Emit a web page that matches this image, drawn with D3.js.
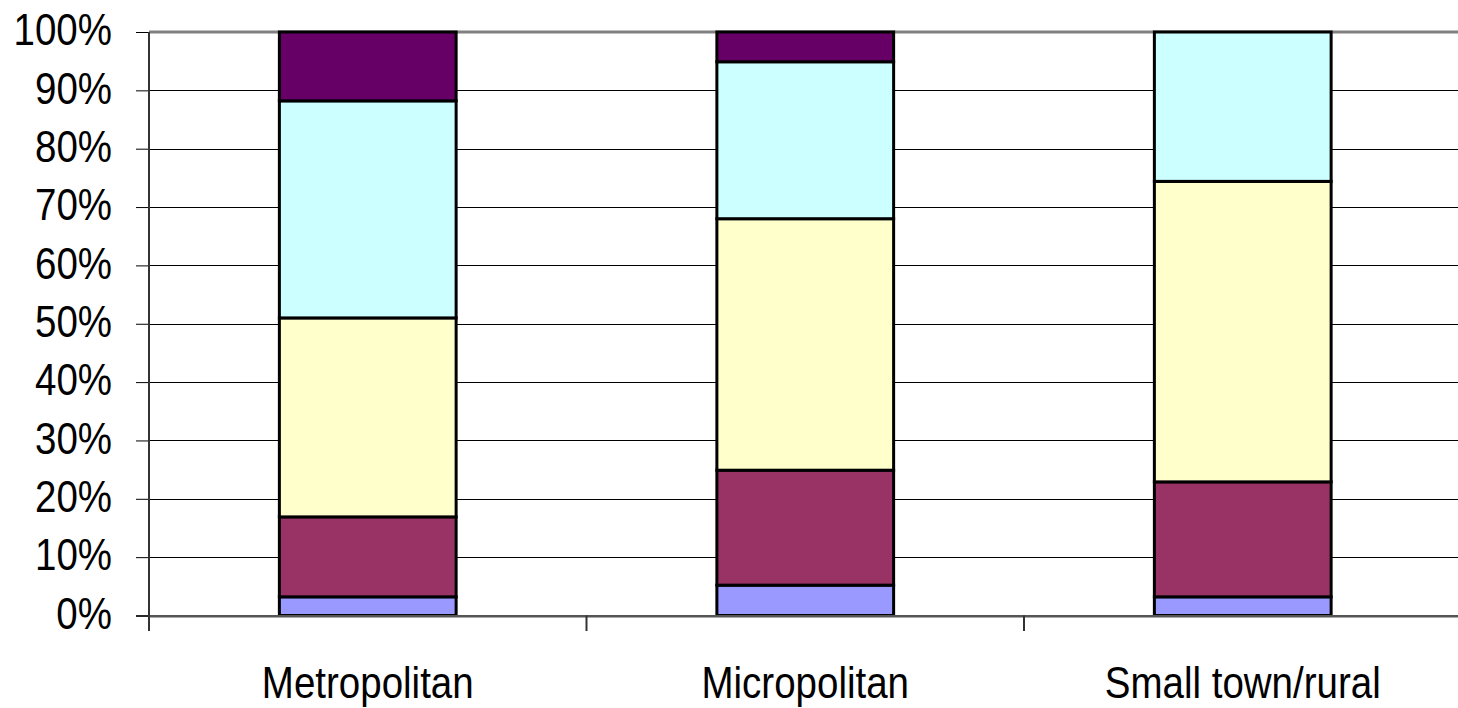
<!DOCTYPE html>
<html>
<head>
<meta charset="utf-8">
<script src="https://cdn.jsdelivr.net/npm/d3@7"></script>
<style>
html,body{margin:0;padding:0;background:#fff;overflow:hidden;}
svg{display:block;}
text{font-family:Arial,"Liberation Sans",sans-serif;fill:#000;}
</style>
</head>
<body>
<svg id="chart" width="1458" height="708"></svg>
<script>
const categories = ["Metropolitan", "Micropolitan", "Small town/rural"];
const series1 = [3.2, 5.2, 3.2];
const series2 = [13.7, 19.7, 19.7];
const series3 = [34.1, 43.1, 51.5];
const series4 = [37.2, 26.9, 25.6];
const series5 = [11.8, 5.1, 0];
const seriesColors = ["#9999FF", "#993366", "#FFFFCC", "#CCFFFF", "#660066"];
const yTicks = [0, 10, 20, 30, 40, 50, 60, 70, 80, 90, 100];

const svg = d3.select("#chart");
const mLeft = 149, mRight = 1461.5, mTop = 32, mBottom = 615.5;

const x = d3.scaleBand().domain(categories).range([mLeft, mRight]).padding(0);
const y = d3.scaleLinear().domain([0, 100]).range([mBottom, mTop]);

// gridlines
svg.append("g").selectAll("line").data(yTicks.filter(t => t > 0 && t < 100)).join("line")
  .attr("x1", mLeft).attr("x2", 1458)
  .attr("y1", d => Math.round(y(d)) + 0.5).attr("y2", d => Math.round(y(d)) + 0.5)
  .attr("stroke", "#000").attr("stroke-width", 1);
// top border
svg.append("line").attr("x1", mLeft).attr("x2", 1458)
  .attr("y1", y(100)).attr("y2", y(100))
  .attr("stroke", "#808080").attr("stroke-width", 3);

// stacked bars
const seriesList = [series1, series2, series3, series4, series5];
const rows = categories.map((c, i) => {
  const r = {cat: c};
  seriesList.forEach((s, k) => r["s" + k] = s[i]);
  return r;
});
const keys = seriesList.map((s, k) => "s" + k);
const stack = d3.stack().keys(keys)(rows);
const barW = x.bandwidth() * 0.404;

svg.append("g").selectAll("g").data(stack).join("g")
  .attr("fill", (d, i) => seriesColors[i])
  .selectAll("rect").data(d => d.filter(p => p[1] - p[0] > 0)).join("rect")
  .attr("x", d => x(d.data.cat) + x.bandwidth() / 2 - barW / 2)
  .attr("width", barW)
  .attr("y", d => y(d[1]))
  .attr("height", d => y(d[0]) - y(d[1]))
  .attr("stroke", "#000").attr("stroke-width", 3);

// x axis line (double grey)
svg.append("line").attr("x1", 136).attr("x2", 1458)
  .attr("y1", mBottom + 0.5).attr("y2", mBottom + 0.5)
  .attr("stroke", "#555").attr("stroke-width", 2);
svg.append("line").attr("x1", mLeft).attr("x2", 1458)
  .attr("y1", mBottom + 2).attr("y2", mBottom + 2)
  .attr("stroke", "#aaa").attr("stroke-width", 1);

// y axis
const yAxis = d3.axisLeft(y).tickValues(yTicks).tickSize(13).tickPadding(24)
  .tickFormat(d => d + "%");
const gy = svg.append("g").attr("transform", `translate(${mLeft},0)`).call(yAxis);
gy.select(".domain").remove();
gy.selectAll(".tick line").attr("stroke", "#000").attr("stroke-width", 1);
gy.selectAll(".tick text")
  .attr("font-size", 38.5).attr("font-family", "Arial, 'Liberation Sans', sans-serif")
  .attr("fill", "#000")
  .attr("x", null).attr("dy", null)
  .attr("y", 0)
  .attr("dominant-baseline", "central")
  .attr("transform", "translate(-37,-2) scale(1,1.13)");
svg.append("line").attr("x1", mLeft).attr("x2", mLeft)
  .attr("y1", mTop).attr("y2", 631)
  .attr("stroke", "#333").attr("stroke-width", 2);

// category separator ticks
const seps = categories.map(c => x(c)).slice(1);
svg.append("g").selectAll("line").data(seps).join("line")
  .attr("x1", d => d).attr("x2", d => d)
  .attr("y1", mBottom).attr("y2", 631)
  .attr("stroke", "#333").attr("stroke-width", 2);

// category labels
svg.append("g").selectAll("text").data(categories).join("text")
  .attr("text-anchor", "middle")
  .attr("font-size", 38.5)
  .attr("transform", d => `translate(${x(d) + x.bandwidth()/2},698) scale(1,1.13)`)
  .text(d => d);
</script>
</body>
</html>
